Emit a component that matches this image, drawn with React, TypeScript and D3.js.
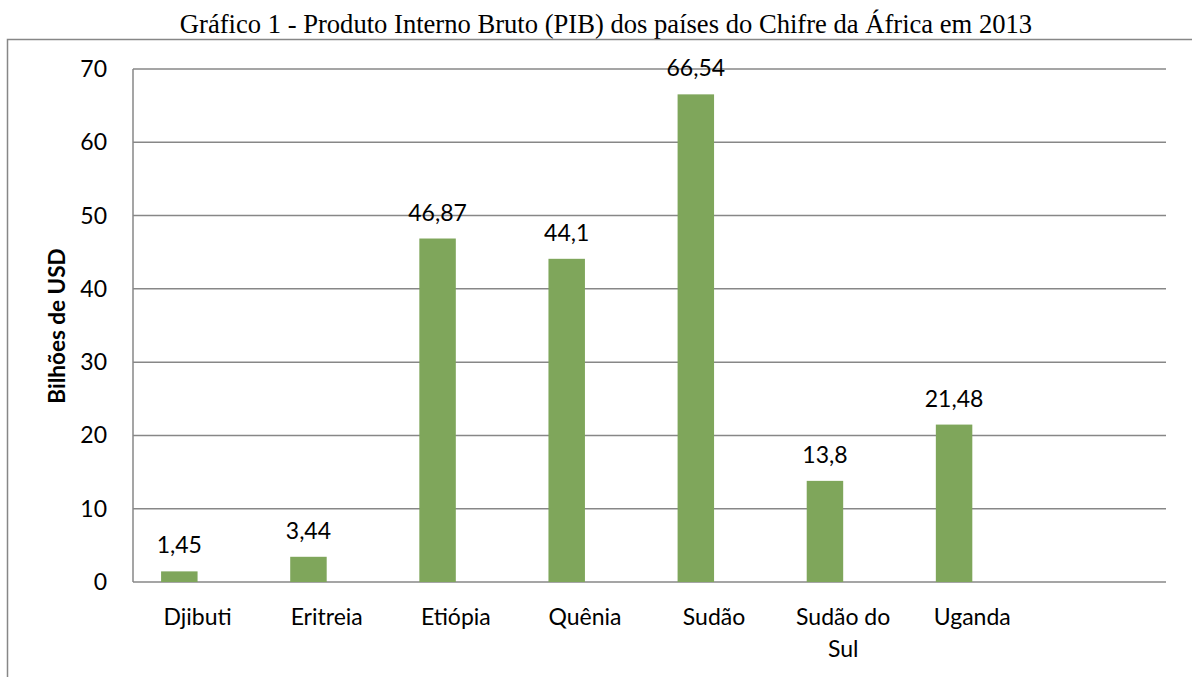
import React, { useEffect, useRef } from 'react';
import * as d3 from 'd3';

const title = 'Gráfico 1 - Produto Interno Bruto (PIB) dos países do Chifre da África em 2013';
const yTitle = 'Bilhões de USD';
// the eighth slot is an empty category, as in the original sheet
const categories = ['Djibuti', 'Eritreia', 'Etiópia', 'Quênia', 'Sudão', 'Sudão do Sul', 'Uganda', ''];
const pib: (number | null)[] = [1.45, 3.44, 46.87, 44.1, 66.54, 13.8, 21.48, null];
const valueLabels = ['1,45', '3,44', '46,87', '44,1', '66,54', '13,8', '21,48', ''];
const yTicks = [0, 10, 20, 30, 40, 50, 60, 70];
const series = ['PIB', '_'];

export default function App() {
  const svgRef = useRef<SVGSVGElement | null>(null);

  useEffect(() => {
    if (!svgRef.current) return;
    const width = 1192;
    const height = 677;
    const margin = { top: 69, right: 26, bottom: 95, left: 133 };
    const w = width - margin.left - margin.right;
    const h = height - margin.top - margin.bottom;

    const svg = d3.select(svgRef.current);
    svg.selectAll('*').remove();
    svg.attr('width', width).attr('height', height);

    const font = "Lato, 'Open Sans', sans-serif";
    const fs = '23px';
    const grey = '#878787';

    // title
    svg.append('text')
      .attr('x', 606).attr('y', 33)
      .attr('text-anchor', 'middle')
      .style('font-family', "'Liberation Serif', 'Times New Roman', serif")
      .style('font-size', '26.6px')
      .attr('fill', '#000')
      .text(title);

    // outer chart frame
    svg.append('path')
      .attr('d', `M7.5,${height} V39.5 H${width}`)
      .attr('fill', 'none')
      .attr('stroke', grey)
      .attr('stroke-width', 1.5);

    const g = svg.append('g').attr('transform', `translate(${margin.left},${margin.top})`);

    const x = d3.scaleBand<string>().domain(categories.map((c, i) => i + '')).range([0, w]);
    const x1 = d3.scaleBand<string>().domain(series).range([0, x.bandwidth()]).paddingInner(0).paddingOuter(0.77);
    const y = d3.scaleLinear().domain([0, 70]).range([h, 0]);

    // gridlines
    g.selectAll('line.grid')
      .data(yTicks.filter(t => t > 0))
      .join('line')
      .attr('class', 'grid')
      .attr('x1', 0).attr('x2', w)
      .attr('y1', d => y(d)).attr('y2', d => y(d))
      .attr('stroke', grey).attr('stroke-width', 1.5);

    // axes lines
    g.append('line').attr('x1', 0).attr('x2', 0).attr('y1', 0).attr('y2', h)
      .attr('stroke', grey).attr('stroke-width', 1.5);
    g.append('line').attr('x1', 0).attr('x2', w).attr('y1', h).attr('y2', h)
      .attr('stroke', grey).attr('stroke-width', 1.5);

    // y tick labels
    g.selectAll('text.ytick')
      .data(yTicks)
      .join('text')
      .attr('class', 'ytick')
      .attr('x', -26).attr('y', d => y(d))
      .attr('dy', '0.35em')
      .attr('text-anchor', 'end')
      .style('font-family', font).style('font-size', fs)
      .attr('fill', '#000')
      .text(d => d);

    // bars
    const data = categories.map((c, i) => ({ key: i + '', value: pib[i], label: valueLabels[i] }))
      .filter(d => d.value != null);

    g.selectAll('rect.bar')
      .data(data)
      .join('rect')
      .attr('class', 'bar')
      .attr('x', d => (x(d.key) as number) + (x1('PIB') as number))
      .attr('width', x1.bandwidth())
      .attr('y', d => y(d.value as number))
      .attr('height', d => h - y(d.value as number))
      .attr('fill', '#7fa65b');

    // value labels
    g.selectAll('text.vlabel')
      .data(data)
      .join('text')
      .attr('class', 'vlabel')
      .attr('x', d => (x(d.key) as number) + (x1('PIB') as number) + x1.bandwidth() / 2)
      .attr('y', d => y(d.value as number) - 18)
      .attr('text-anchor', 'middle')
      .style('font-family', font).style('font-size', fs)
      .attr('fill', '#000')
      .text(d => d.label);

    // category labels (Sudão do Sul wraps onto two lines)
    categories.forEach((c, i) => {
      if (!c) return;
      const cx = (x(i + '') as number) + x.bandwidth() / 2;
      const lines = c === 'Sudão do Sul' ? ['Sudão do', 'Sul'] : [c];
      const t = g.append('text')
        .attr('text-anchor', 'middle')
        .style('font-family', font).style('font-size', fs)
        .attr('fill', '#000');
      lines.forEach((ln, k) => {
        t.append('tspan').attr('x', cx).attr('y', h + 43 + k * 32).text(ln);
      });
    });

    // y axis title
    svg.append('text')
      .attr('transform', `translate(65,326) rotate(-90)`)
      .attr('text-anchor', 'middle')
      .style('font-family', font).style('font-size', '22.5px').style('font-weight', 'bold')
      .attr('fill', '#000')
      .text(yTitle);
  }, []);

  return (
    <div style={{ position: 'absolute', left: 0, top: 0 }}>
      <svg ref={svgRef} style={{ display: 'block' }} />
    </div>
  );
}
